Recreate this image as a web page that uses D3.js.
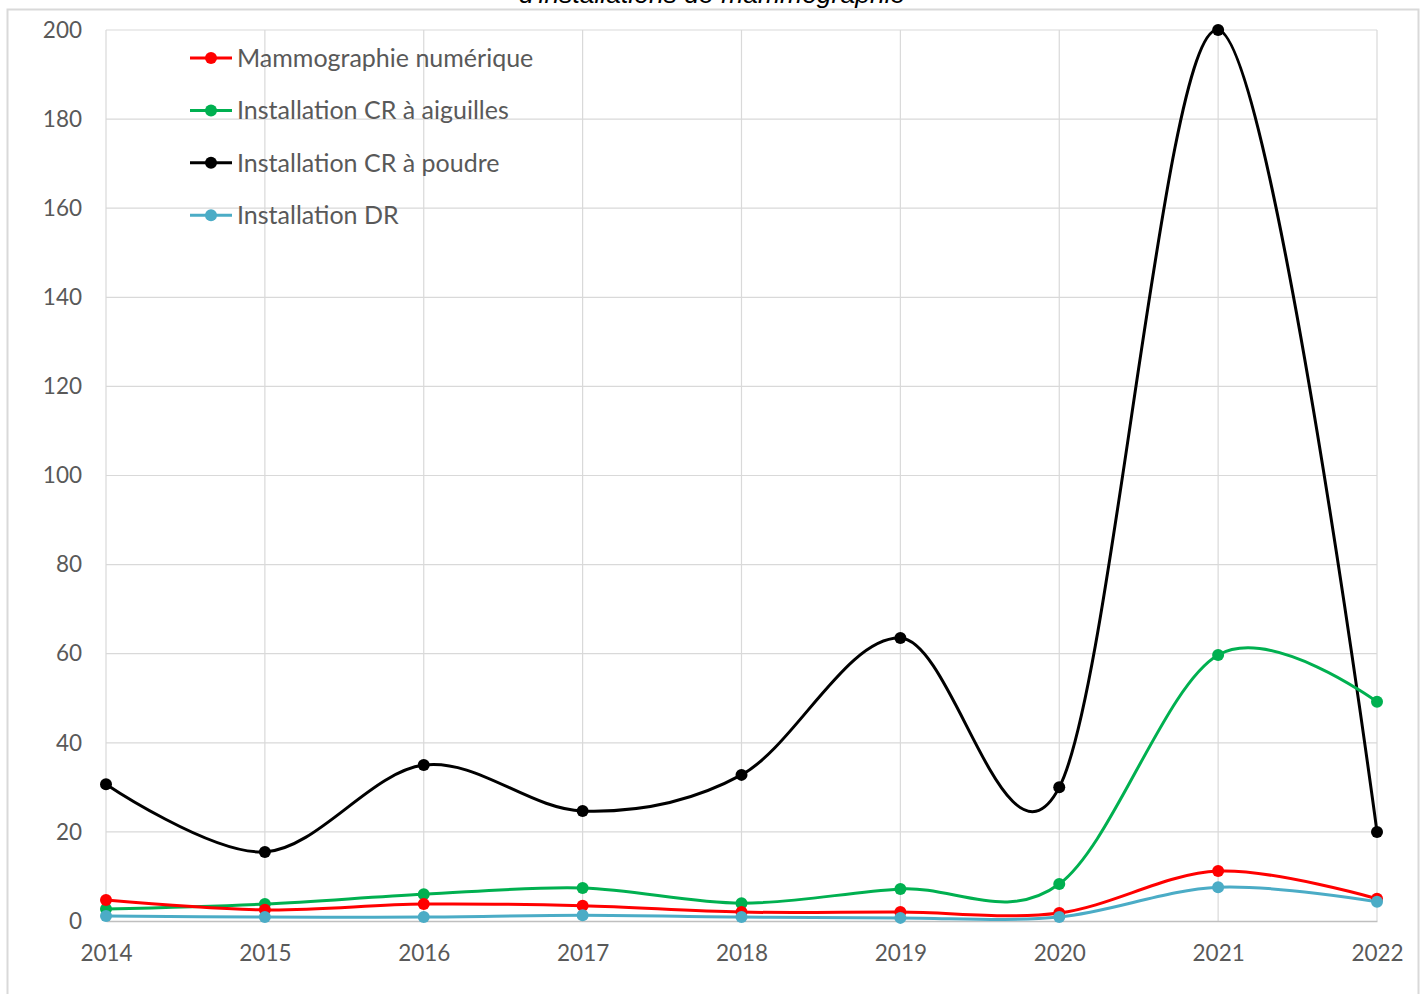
<!DOCTYPE html>
<html>
<head>
<meta charset="utf-8">
<script src="https://cdn.jsdelivr.net/npm/d3@7"></script>
<style>
  body { margin: 0; background: #fff; }
  .tick text { fill: #595959; font-family: Lato, "Noto Sans", sans-serif; }
</style>
</head>
<body>
<svg id="chart"></svg>
<script>
// Data
const years = [2014, 2015, 2016, 2017, 2018, 2019, 2020, 2021, 2022];
const seriesNames = ['Mammographie numérique', 'Installation CR à aiguilles', 'Installation CR à poudre', 'Installation DR'];
const mammoNum = [4.7, 2.5, 3.8, 3.4, 2.0, 2.0, 1.8, 11.2, 5.0];
const crAiguilles = [2.7, 3.8, 6.0, 7.4, 4.0, 7.2, 8.3, 59.7, 49.2];
const crPoudre = [30.7, 15.5, 35.0, 24.7, 32.8, 63.5, 30.0, 200, 20.0];
const dr = [1.1, 0.9, 0.9, 1.3, 0.9, 0.7, 0.9, 7.6, 4.3];
const yTicks = [0, 20, 40, 60, 80, 100, 120, 140, 160, 180, 200];
const colors = ['#ff0000', '#00b050', '#000000', '#4bacc6'];

const W = 1426, H = 994;
const margin = {top: 30, right: 49, bottom: 73, left: 106};
const width = W - margin.left - margin.right;
const height = H - margin.top - margin.bottom;

const svg = d3.select('#chart').attr('width', W).attr('height', H);

// chart frame
svg.append('path')
    .attr('d', `M7.5,${H} V9.5 H1418.5 V${H}`)
    .attr('fill', 'none')
    .attr('stroke', '#d9d9d9')
    .attr('stroke-width', 2);

// title (cut off at the top in the reference)
svg.append('text')
    .attr('x', 712)
    .attr('y', 3)
    .attr('text-anchor', 'middle')
    .attr('font-family', '"Liberation Sans", Arial, sans-serif')
    .attr('font-style', 'italic')
    .attr('font-size', 26.5)
    .attr('fill', '#000')
    .text("d'installations de mammographie");

const chart = svg.append('g')
    .attr('transform', `translate(${margin.left},${margin.top})`);

const xScale = d3.scalePoint().domain(years).range([0, width]);
const yScale = d3.scaleLinear().domain([0, 200]).range([height, 0]);

// gridlines
chart.append('g').selectAll('line')
    .data(yTicks.filter(d => d > 0))
    .join('line')
    .attr('x1', 0).attr('x2', width)
    .attr('y1', d => yScale(d)).attr('y2', d => yScale(d))
    .attr('stroke', '#d9d9d9').attr('stroke-width', 1.2);

chart.append('g').selectAll('line')
    .data(years)
    .join('line')
    .attr('x1', d => xScale(d)).attr('x2', d => xScale(d))
    .attr('y1', 0).attr('y2', height)
    .attr('stroke', '#d9d9d9').attr('stroke-width', 1.2);

// axes
const xAxis = d3.axisBottom(xScale).tickSize(0).tickPadding(24).tickFormat(d3.format('d'));
const yAxis = d3.axisLeft(yScale).tickValues(yTicks).tickSize(0).tickPadding(24);

const xAxisG = chart.append('g')
    .attr('transform', `translate(0,${height})`)
    .call(xAxis);
xAxisG.select('.domain').attr('stroke', '#bfbfbf').attr('stroke-width', 1.5);
xAxisG.selectAll('text').attr('font-size', 22.5);

const yAxisG = chart.append('g').call(yAxis);
yAxisG.select('.domain').remove();
yAxisG.selectAll('text').attr('font-size', 22.5);

// series lines
const allSeries = [mammoNum, crAiguilles, crPoudre, dr];
const line = d3.line()
    .x((d, i) => xScale(years[i]))
    .y(d => yScale(d))
    .curve(d3.curveCatmullRom.alpha(0));

// draw in order: black, green, red, blue on top
const drawOrder = [2, 1, 0, 3];
drawOrder.forEach(si => {
  const g = chart.append('g');
  g.append('path')
      .datum(allSeries[si])
      .attr('d', line)
      .attr('fill', 'none')
      .attr('stroke', colors[si])
      .attr('stroke-width', 3);
  g.selectAll('circle')
      .data(allSeries[si])
      .join('circle')
      .attr('cx', (d, i) => xScale(years[i]))
      .attr('cy', d => yScale(d))
      .attr('r', 6)
      .attr('fill', colors[si]);
});

// legend
const legend = svg.append('g').attr('transform', 'translate(190,58)');
const items = legend.selectAll('g')
    .data(seriesNames)
    .join('g')
    .attr('transform', (d, i) => `translate(0,${i * 52.4})`);
items.append('line')
    .attr('x1', 0).attr('x2', 42)
    .attr('stroke', (d, i) => colors[i])
    .attr('stroke-width', 3);
items.append('circle')
    .attr('cx', 21).attr('r', 6)
    .attr('fill', (d, i) => colors[i]);
items.append('text')
    .attr('x', 47)
    .attr('dy', '0.35em')
    .attr('font-family', 'Lato, "Noto Sans", sans-serif')
    .attr('font-size', 25)
    .attr('fill', '#595959')
    .text(d => d);
</script>
</body>
</html>
